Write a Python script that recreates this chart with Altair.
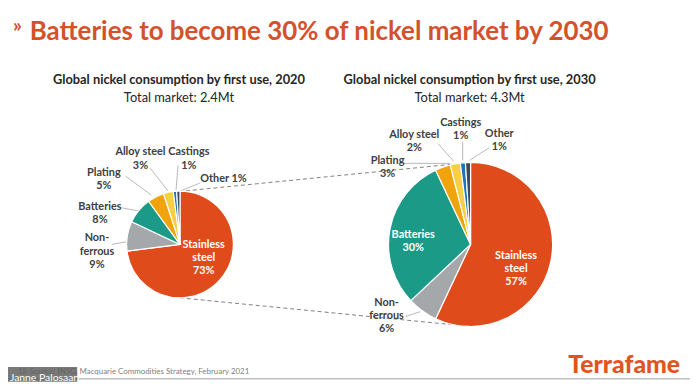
import altair as alt
import pandas as pd

# ---------------- data ----------------
uses = ["Stainless steel", "Non-ferrous", "Batteries", "Plating", "Alloy steel", "Castings", "Other"]
share_2020 = [73, 9, 8, 5, 3, 1, 1]
share_2030 = [57, 6, 30, 3, 2, 1, 1]
colors = ["#E04B1B", "#A5A8AB", "#1A9A87", "#F0A30A", "#F6CF45", "#1C75BC", "#3B4A5A"]
years = [2020, 2030]
totals = ["2.4Mt", "4.3Mt"]
title_text = "Batteries to become 30% of nickel market by 2030"
source_text = "Source: INSG, Macquarie Commodities Strategy, February 2021"
page_no = "18"
presenter = "Janne Palosaari"
logo = "Terrafame"

# ---------------- layout (page pixel coords) ----------------
OFF = 8  # page margin
W, H = 690, 376
PIE = {2020: (182, 245, 54), 2030: (476, 245, 83)}
LINE_H = 13.2
# label block: x, y of first line, inside (white) flag, inline flag
LABELS = {
    2020: {
        "Stainless steel": (206, 246, True, False),
        "Non-ferrous": (98, 239, False, False),
        "Batteries": (101, 207, False, False),
        "Plating": (105, 173, False, False),
        "Alloy steel": (142, 152, False, False),
        "Castings": (191, 152, False, False),
        "Other": (226, 179, False, True),
    },
    2030: {
        "Stainless steel": (522, 257, True, False),
        "Non-ferrous": (391, 304, False, False),
        "Batteries": (418, 235, True, False),
        "Plating": (392, 161, False, False),
        "Alloy steel": (419, 134, False, False),
        "Castings": (466, 122, False, False),
        "Other": (505, 133, False, False),
    },
}
LEADERS = [
    (152, 168, 170, 191), (180, 165, 178, 190), (202, 183, 182, 191),
    (127, 176, 153, 195), (123, 208, 140, 211), (113, 245, 130, 242),
    (408, 163, 455, 163), (443, 143, 459, 161), (468, 141, 468, 160),
    (495, 147, 475, 160), (410, 318, 425, 313),
]
CONNECTORS = [(181, 191.5, 476, 162), (182, 299, 476, 328)]

NAME_LINES = {"Stainless steel": ["Stainless", "steel"], "Non-ferrous": ["Non-", "ferrous"]}

FONT = "Lato"


def px(v):
    return v - OFF


def xy_enc():
    return dict(x=alt.X("x:Q", scale=None, axis=None), y=alt.Y("y:Q", scale=None, axis=None))


layers = []

# connectors (dashed)
con_df = pd.DataFrame([dict(x=px(a), y=px(b), x2=px(c), y2=px(d)) for a, b, c, d in CONNECTORS])
layers.append(
    alt.Chart(con_df).mark_rule(color="#7F7F7F", strokeDash=[4, 3], strokeWidth=1).encode(
        **xy_enc(), x2="x2:Q", y2="y2:Q"
    )
)

# leader lines
lead_df = pd.DataFrame([dict(x=px(a), y=px(b), x2=px(c), y2=px(d)) for a, b, c, d in LEADERS])
layers.append(
    alt.Chart(lead_df).mark_rule(color="#A6A6A6", strokeWidth=0.8).encode(
        **xy_enc(), x2="x2:Q", y2="y2:Q"
    )
)

# pies
for yr, shares in zip(years, [share_2020, share_2030]):
    cx, cy, r = PIE[yr]
    df = pd.DataFrame({"use": uses, "value": shares, "order": list(range(len(uses)))})
    layers.append(
        alt.Chart(df).mark_arc(radius=r, stroke="white", strokeWidth=1.2).encode(
            x=alt.value(px(cx)),
            y=alt.value(px(cy)),
            theta=alt.Theta("value:Q", stack=True),
            color=alt.Color("use:N", scale=alt.Scale(domain=uses, range=colors), legend=None),
            order=alt.Order("order:Q"),
        )
    )

# pie labels
rows = []
for yr, shares in zip(years, [share_2020, share_2030]):
    for u, v in zip(uses, shares):
        x, y, inside, inline = LABELS[yr][u]
        if inline:
            lines = [f"{u} {v}%"]
        else:
            lines = NAME_LINES.get(u, [u]) + [f"{v}%"]
        for i, t in enumerate(lines):
            rows.append(dict(x=px(x), y=px(y + i * LINE_H), text=t,
                             col="#FFFFFF" if inside else "#404040"))
lab_df = pd.DataFrame(rows)
layers.append(
    alt.Chart(lab_df).mark_text(font=FONT, fontSize=11, fontWeight="bold", baseline="middle", align="center").encode(
        **xy_enc(), text="text:N", color=alt.Color("col:N", scale=None)
    )
)

# subtitles
sub_df = pd.DataFrame([
    dict(x=px(PIE[yr][0] - 1), y=px(83), text=f"Global nickel consumption by first use, {yr}") for yr in years
])
layers.append(
    alt.Chart(sub_df).mark_text(font=FONT, fontSize=13, fontWeight="bold", color="#262626", align="center", baseline="alphabetic").encode(
        **xy_enc(), text="text:N"
    )
)
tot_df = pd.DataFrame([
    dict(x=px(PIE[yr][0] - 1), y=px(101), text=f"Total market: {t}") for yr, t in zip(years, totals)
])
layers.append(
    alt.Chart(tot_df).mark_text(font=FONT, fontSize=13, color="#262626", align="center", baseline="alphabetic").encode(
        **xy_enc(), text="text:N"
    )
)

# slide title
layers.append(
    alt.Chart(pd.DataFrame([dict(x=px(13), y=px(24), text="\u00bb")])).mark_text(
        font=FONT, fontSize=20, fontWeight="bold", color="#D4512B", align="left", baseline="middle"
    ).encode(**xy_enc(), text="text:N")
)
layers.append(
    alt.Chart(pd.DataFrame([dict(x=px(30), y=px(38), text=title_text)])).mark_text(
        font=FONT, fontSize=26.2, fontWeight="bold", color="#D4512B", align="left", baseline="alphabetic"
    ).encode(**xy_enc(), text="text:N")
)

# bottom rule
layers.append(
    alt.Chart(pd.DataFrame([dict(x=px(8), y=px(381), x2=px(698))])).mark_rule(color="#A0A0A0", strokeWidth=1).encode(
        **xy_enc(), x2="x2:Q"
    )
)

# footer text
layers.append(
    alt.Chart(pd.DataFrame([dict(x=px(18), y=px(376), text=page_no), dict(x=px(30), y=px(376), text=source_text)])).mark_text(
        font=FONT, fontSize=8, color="#7F7F7F", align="left", baseline="alphabetic"
    ).encode(**xy_enc(), text="text:N")
)

# presenter box (semi-transparent overlay, as in the reference)
layers.append(
    alt.Chart(pd.DataFrame([dict(x=px(8), y=px(369), x2=px(78), y2=px(384))])).mark_rect(color="#5B5B5B", opacity=0.82).encode(
        **xy_enc(), x2="x2:Q", y2="y2:Q"
    )
)
layers.append(
    alt.Chart(pd.DataFrame([dict(x=px(10), y=px(383), text=presenter)])).mark_text(
        font=FONT, fontSize=10.5, color="#FFFFFF", align="left", baseline="alphabetic"
    ).encode(**xy_enc(), text="text:N")
)

# logo
layers.append(
    alt.Chart(pd.DataFrame([dict(x=px(688), y=px(375), text=logo)])).mark_text(
        font=FONT, fontSize=25, fontWeight=900, color="#E2541F", align="right", baseline="alphabetic"
    ).encode(**xy_enc(), text="text:N")
)

chart = (
    alt.layer(*layers)
    .resolve_scale(theta="independent")
    .properties(width=W, height=H, padding=0, autosize=alt.AutoSizeParams(type="none"))
    .configure_view(stroke=None)
)

chart.save("out.html", embed_options={"renderer": "svg", "actions": False})
